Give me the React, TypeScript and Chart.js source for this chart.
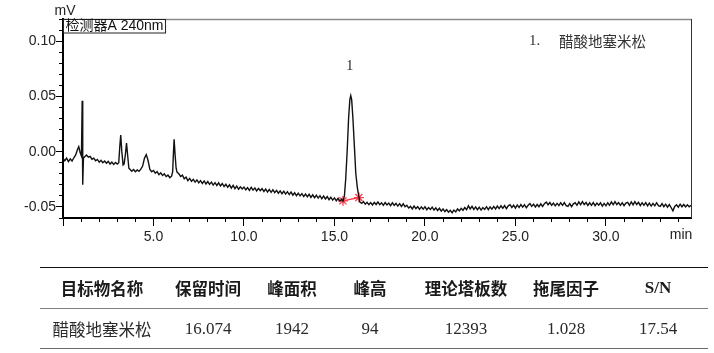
import React, { useEffect, useRef } from 'react';
import { Chart, registerables } from 'chart.js';

Chart.register(...registerables);

// ---- Data (time in min, signal in mV) ----
const chromatogram: [number, number][] = [
  [0.0, -0.0060], [0.1, -0.0082], [0.2, -0.0058], [0.3, -0.0090], [0.4, -0.0065], [0.5, -0.0085],
  [0.6, -0.0055], [0.7, -0.0030], [0.8, 0.0020], [0.87, 0.0045], [0.95, -0.0010], [1.02, -0.0040],
  [1.06, 0.0460], [1.09, -0.0300], [1.13, -0.0060], [1.2, -0.0045], [1.3, -0.0030], [1.4, -0.0050],
  [1.5, -0.0042], [1.6, -0.0068], [1.7, -0.0058], [1.8, -0.0082], [1.9, -0.0070], [2.0, -0.0095],
  [2.1, -0.0078], [2.2, -0.0100], [2.3, -0.0085], [2.4, -0.0105], [2.5, -0.0088], [2.6, -0.0112],
  [2.7, -0.0095], [2.8, -0.0115], [2.9, -0.0098], [3.0, -0.0112], [3.08, -0.0100], [3.14, 0.0050],
  [3.19, 0.0150], [3.25, 0.0000], [3.32, -0.0120], [3.38, -0.0110], [3.45, -0.0020], [3.51, 0.0078],
  [3.57, -0.0030], [3.64, -0.0150], [3.7, -0.0160], [3.8, -0.0178], [3.9, -0.0162], [4.0, -0.0182],
  [4.1, -0.0165], [4.2, -0.0178], [4.3, -0.0158], [4.4, -0.0130], [4.5, -0.0060], [4.6, -0.0027],
  [4.7, -0.0080], [4.8, -0.0160], [4.9, -0.0182], [5.0, -0.0170], [5.1, -0.0195], [5.2, -0.0180],
  [5.3, -0.0208], [5.4, -0.0192], [5.5, -0.0215], [5.6, -0.0200], [5.7, -0.0225], [5.8, -0.0212],
  [5.9, -0.0235], [6.0, -0.0222], [6.06, -0.0180], [6.1, -0.0020], [6.14, 0.0113], [6.19, -0.0020],
  [6.25, -0.0150], [6.3, -0.0185], [6.4, -0.0200], [6.5, -0.0225], [6.6, -0.0212], [6.7, -0.0245],
  [6.8, -0.0230], [6.9, -0.0262], [7.0, -0.0242], [7.1, -0.0268], [7.2, -0.0250], [7.3, -0.0275],
  [7.4, -0.0255], [7.5, -0.0282], [7.6, -0.0262], [7.7, -0.0288], [7.8, -0.0265], [7.9, -0.0292],
  [8.0, -0.0270], [8.1, -0.0296], [8.2, -0.0276], [8.3, -0.0302], [8.4, -0.0280], [8.5, -0.0305],
  [8.6, -0.0282], [8.7, -0.0310], [8.8, -0.0288], [8.9, -0.0315], [9.0, -0.0295], [9.1, -0.0322],
  [9.2, -0.0300], [9.3, -0.0330], [9.4, -0.0305], [9.5, -0.0335], [9.6, -0.0312], [9.7, -0.0340],
  [9.8, -0.0318], [9.9, -0.0338], [10.0, -0.0320], [10.1, -0.0345], [10.2, -0.0325], [10.3, -0.0350],
  [10.4, -0.0322], [10.5, -0.0348], [10.6, -0.0328], [10.7, -0.0355], [10.8, -0.0332], [10.9, -0.0352],
  [11.0, -0.0335], [11.1, -0.0360], [11.2, -0.0338], [11.3, -0.0365], [11.4, -0.0342], [11.5, -0.0368],
  [11.6, -0.0345], [11.7, -0.0370], [11.8, -0.0350], [11.9, -0.0376], [12.0, -0.0355], [12.1, -0.0380],
  [12.2, -0.0358], [12.3, -0.0384], [12.4, -0.0362], [12.5, -0.0388], [12.6, -0.0366], [12.7, -0.0394],
  [12.8, -0.0372], [12.9, -0.0398], [13.0, -0.0375], [13.1, -0.0400], [13.2, -0.0380], [13.3, -0.0406],
  [13.4, -0.0383], [13.5, -0.0408], [13.6, -0.0386], [13.7, -0.0414], [13.8, -0.0390], [13.9, -0.0416],
  [14.0, -0.0394], [14.1, -0.0420], [14.2, -0.0398], [14.3, -0.0426], [14.4, -0.0402], [14.5, -0.0428],
  [14.6, -0.0406], [14.7, -0.0434], [14.8, -0.0412], [14.9, -0.0438], [15.0, -0.0418], [15.1, -0.0444],
  [15.2, -0.0422], [15.3, -0.0448], [15.4, -0.0430], [15.47, -0.0445], [15.55, -0.0400], [15.62, -0.0250],
  [15.7, 0.0000], [15.78, 0.0300], [15.85, 0.0470], [15.9, 0.0506], [15.95, 0.0470], [16.02, 0.0300],
  [16.1, 0.0050], [16.18, -0.0200], [16.26, -0.0320], [16.33, -0.0390], [16.4, -0.0455], [16.5, -0.0468],
  [16.6, -0.0452], [16.7, -0.0475], [16.8, -0.0458], [16.9, -0.0480], [17.0, -0.0460], [17.1, -0.0482],
  [17.2, -0.0458], [17.3, -0.0478], [17.4, -0.0455], [17.5, -0.0480], [17.6, -0.0462], [17.7, -0.0485],
  [17.8, -0.0460], [17.9, -0.0482], [18.0, -0.0465], [18.1, -0.0488], [18.2, -0.0462], [18.3, -0.0485],
  [18.4, -0.0468], [18.5, -0.0492], [18.6, -0.0470], [18.7, -0.0495], [18.8, -0.0472], [18.9, -0.0498],
  [19.0, -0.0485], [19.1, -0.0510], [19.2, -0.0495], [19.3, -0.0518], [19.4, -0.0492], [19.5, -0.0515],
  [19.6, -0.0498], [19.7, -0.0522], [19.8, -0.0500], [19.9, -0.0520], [20.0, -0.0498], [20.1, -0.0525],
  [20.2, -0.0505], [20.3, -0.0522], [20.4, -0.0502], [20.5, -0.0528], [20.6, -0.0508], [20.7, -0.0532],
  [20.8, -0.0512], [20.9, -0.0538], [21.0, -0.0518], [21.1, -0.0542], [21.2, -0.0525], [21.3, -0.0548],
  [21.4, -0.0530], [21.5, -0.0552], [21.6, -0.0528], [21.7, -0.0545], [21.8, -0.0518], [21.9, -0.0535],
  [22.0, -0.0512], [22.1, -0.0530], [22.2, -0.0505], [22.3, -0.0525], [22.4, -0.0490], [22.5, -0.0518],
  [22.6, -0.0495], [22.7, -0.0522], [22.8, -0.0500], [22.9, -0.0525], [23.0, -0.0502], [23.1, -0.0528],
  [23.2, -0.0505], [23.3, -0.0522], [23.4, -0.0498], [23.5, -0.0525], [23.6, -0.0500], [23.7, -0.0520],
  [23.8, -0.0495], [23.9, -0.0518], [24.0, -0.0492], [24.1, -0.0515], [24.2, -0.0490], [24.3, -0.0512],
  [24.4, -0.0488], [24.5, -0.0515], [24.6, -0.0490], [24.7, -0.0480], [24.8, -0.0505], [24.9, -0.0485],
  [25.0, -0.0510], [25.1, -0.0482], [25.2, -0.0505], [25.3, -0.0478], [25.4, -0.0502], [25.5, -0.0480],
  [25.6, -0.0508], [25.7, -0.0485], [25.8, -0.0470], [25.9, -0.0495], [26.0, -0.0475], [26.1, -0.0500],
  [26.2, -0.0478], [26.3, -0.0498], [26.4, -0.0472], [26.5, -0.0495], [26.6, -0.0470], [26.7, -0.0455],
  [26.8, -0.0480], [26.9, -0.0460], [27.0, -0.0485], [27.1, -0.0465], [27.2, -0.0490], [27.3, -0.0468],
  [27.4, -0.0488], [27.5, -0.0462], [27.6, -0.0485], [27.7, -0.0460], [27.8, -0.0488], [27.9, -0.0495],
  [28.0, -0.0470], [28.1, -0.0498], [28.2, -0.0472], [28.3, -0.0462], [28.4, -0.0485], [28.5, -0.0455],
  [28.6, -0.0480], [28.7, -0.0452], [28.8, -0.0478], [28.9, -0.0460], [29.0, -0.0486], [29.1, -0.0462],
  [29.2, -0.0485], [29.3, -0.0460], [29.4, -0.0488], [29.5, -0.0465], [29.6, -0.0484], [29.7, -0.0462],
  [29.8, -0.0492], [29.9, -0.0468], [30.0, -0.0490], [30.1, -0.0462], [30.2, -0.0485], [30.3, -0.0455],
  [30.4, -0.0480], [30.5, -0.0452], [30.6, -0.0478], [30.7, -0.0460], [30.8, -0.0485], [30.9, -0.0462],
  [31.0, -0.0488], [31.1, -0.0465], [31.2, -0.0458], [31.3, -0.0485], [31.4, -0.0455], [31.5, -0.0482],
  [31.6, -0.0452], [31.7, -0.0478], [31.8, -0.0458], [31.9, -0.0488], [32.0, -0.0462], [32.1, -0.0485],
  [32.2, -0.0460], [32.3, -0.0490], [32.4, -0.0465], [32.5, -0.0492], [32.6, -0.0468], [32.7, -0.0490],
  [32.8, -0.0462], [32.9, -0.0488], [33.0, -0.0495], [33.1, -0.0470], [33.2, -0.0498], [33.3, -0.0475],
  [33.4, -0.0502], [33.5, -0.0478], [33.6, -0.0505], [33.7, -0.0535], [33.8, -0.0495], [33.9, -0.0480],
  [34.0, -0.0502], [34.1, -0.0475], [34.2, -0.0498], [34.3, -0.0478], [34.4, -0.0500], [34.5, -0.0480],
  [34.6, -0.0498], [34.7, -0.0485],
];

// integration baseline markers of peak 1
const integrationTimes = [15.47, 16.35];
const integrationValues = [-0.0445, -0.0415];

// peak annotation
const peakLabels = ['1'];
const peakTimes = [15.9];
const peakValues = [0.0506];

// legend / captions
const detectorCaption = '检测器A 240nm';
const yUnit = 'mV';
const xUnit = 'min';
const compoundLegend = ['1.', '醋酸地塞米松'];

// axes
const xMin = 0;
const xMax = 34.7;
const xMinorStep = 1;
const xMajorStep = 5;
const yMin = -0.06;
const yMax = 0.12;
const yMinorStep = 0.01;
const yMajorStep = 0.05;

// table
const tableHeaders = ['目标物名称', '保留时间', '峰面积', '峰高', '理论塔板数', '拖尾因子', 'S/N'];
const tableValues = ['醋酸地塞米松', '16.074', '1942', '94', '12393', '1.028', '17.54'];

// ---- layout / style constants ----
const columnWidths = [124, 88, 80, 76, 116, 84, 100];
const SANS = '"Liberation Sans", Arial, "Noto Sans CJK SC", sans-serif';
const SERIF = '"Liberation Serif", "Times New Roman", "Noto Sans CJK SC", serif';
const CJK = '"Noto Sans CJK SC", sans-serif';

const isMultiple = (v: number, step: number) => Math.abs(v / step - Math.round(v / step)) < 1e-6;

const decorations = {
  id: 'decorations',
  afterDraw(chart: any) {
    const { ctx, chartArea } = chart;
    const xs = chart.scales.x;
    const ys = chart.scales.y;
    ctx.save();
    // top border (gray)
    ctx.strokeStyle = '#8a8a8a';
    ctx.lineWidth = 1.5;
    ctx.beginPath();
    ctx.moveTo(chartArea.left, chartArea.top + 0.5);
    ctx.lineTo(chartArea.right + 0.5, chartArea.top + 0.5);
    ctx.stroke();
    // right border
    ctx.strokeStyle = '#333';
    ctx.lineWidth = 1;
    ctx.beginPath();
    ctx.moveTo(chartArea.right + 0.5, chartArea.top);
    ctx.lineTo(chartArea.right + 0.5, chartArea.bottom);
    ctx.stroke();

    // unit labels
    ctx.fillStyle = '#222';
    ctx.font = `14px ${SANS}`;
    ctx.textAlign = 'center';
    ctx.textBaseline = 'middle';
    ctx.fillText(yUnit, chartArea.left + 2, 11.5);
    ctx.fillText(xUnit, chartArea.right - 10, chartArea.bottom + 17.5);

    // detector caption box
    ctx.font = `14px ${SANS}`;
    const w = ctx.measureText(detectorCaption).width;
    ctx.fillStyle = '#fff';
    ctx.fillRect(chartArea.left + 1, chartArea.top + 1, w + 4, 13);
    ctx.strokeStyle = '#222';
    ctx.lineWidth = 1;
    ctx.strokeRect(chartArea.left + 0.5, chartArea.top + 0.5, w + 4, 13.5);
    ctx.fillStyle = '#111';
    ctx.textAlign = 'left';
    ctx.fillText(detectorCaption, chartArea.left + 2.5, chartArea.top + 7.5);

    // compound legend
    ctx.fillStyle = '#333';
    ctx.font = `15px ${SERIF}`;
    ctx.fillText(compoundLegend[0], 529, 41.5);
    ctx.font = `14.5px ${CJK}`;
    ctx.fillText(compoundLegend[1], 559, 41);

    // peak labels
    ctx.fillStyle = '#222';
    ctx.font = `14px ${SERIF}`;
    ctx.textAlign = 'center';
    peakLabels.forEach((lab, i) => {
      const px = xs.getPixelForValue(peakTimes[i]);
      const py = ys.getPixelForValue(peakValues[i]);
      ctx.fillText(lab, px - 1, py - 29);
    });
    ctx.restore();
  },
};

function ChromChart() {
  const ref = useRef<HTMLCanvasElement | null>(null);
  useEffect(() => {
    if (!ref.current) return;
    const chart = new Chart(ref.current, {
      type: 'line',
      data: {
        datasets: [
          {
            label: 'trace',
            data: chromatogram.map(([x, y]) => ({ x, y })),
            borderColor: '#111',
            borderWidth: 1.4,
            pointRadius: 0,
            tension: 0,
            fill: false,
          },
          {
            label: 'integration',
            data: integrationTimes.map((x, i) => ({ x, y: integrationValues[i] })),
            borderColor: '#ff3b4a',
            backgroundColor: '#ff3b4a',
            borderWidth: 1.5,
            pointStyle: 'star',
            pointRadius: 5,
            pointBorderWidth: 1.3,
            tension: 0,
            fill: false,
          },
        ],
      } as any,
      options: {
        animation: false,
        responsive: false,
        maintainAspectRatio: false,
        events: [],
        layout: { padding: { top: 19, right: 23, left: 0, bottom: 0 } },
        plugins: { legend: { display: false }, tooltip: { enabled: false }, title: { display: false } },
        scales: {
          x: {
            type: 'linear',
            min: xMin,
            max: xMax,
            border: { display: true, color: '#000', width: 2 },
            grid: {
              drawOnChartArea: false,
              drawTicks: true,
              tickLength: 8,
              tickWidth: 1,
              tickColor: '#000',
              tickBorderDash: (c: any) => (c.tick && isMultiple(c.tick.value, xMajorStep) ? [] : [3, 30]),
            },
            ticks: {
              stepSize: xMinorStep,
              autoSkip: false,
              includeBounds: false,
              maxRotation: 0,
              padding: 3,
              color: '#222',
              font: { size: 14, family: SANS },
              callback: (v: any) => (isMultiple(Number(v), xMajorStep) && Number(v) > 0 ? Number(v).toFixed(1) : ''),
            },
            afterFit: (s: any) => {
              s.height = 37;
              s.paddingLeft = 0;
              s.paddingRight = 0;
            },
          },
          y: {
            type: 'linear',
            min: yMin,
            max: yMax,
            border: { display: true, color: '#000', width: 2 },
            grid: {
              drawOnChartArea: false,
              drawTicks: true,
              tickLength: 7,
              tickWidth: 1,
              tickColor: '#000',
              tickBorderDash: (c: any) => (c.tick && isMultiple(c.tick.value, yMajorStep) ? [] : [0, 3, 3, 30]),
            },
            ticks: {
              stepSize: yMinorStep,
              autoSkip: false,
              padding: 0,
              color: '#222',
              font: { size: 14, family: SANS },
              callback: (v: any) => (isMultiple(Number(v), yMajorStep) && Number(v) <= 0.1 + 1e-9 ? Number(v).toFixed(2) : ''),
            },
            afterFit: (s: any) => {
              s.width = 63;
              s.paddingTop = 0;
              s.paddingBottom = 0;
            },
          },
        },
      } as any,
      plugins: [decorations],
    });
    return () => chart.destroy();
  }, []);
  return <canvas ref={ref} width={714} height={255} style={{ display: 'block', width: 714, height: 255 }} />;
}

export default function App() {
  const line = (top: number, color: string) => (
    <div style={{ position: 'absolute', left: 40, width: 668, top, height: 1.5, background: color }} />
  );
  const row = (cells: string[], top: number, header: boolean) => (
    <div style={{ position: 'absolute', left: 40, top, height: 40, display: 'flex', alignItems: 'center' }}>
      {cells.map((c, i) => {
        const isCjk = /[\u4e00-\u9fff]/.test(c);
        const style: React.CSSProperties = {
          width: columnWidths[i],
          textAlign: 'center',
          whiteSpace: 'nowrap',
          color: header ? '#1a1a1a' : '#2a2a2a',
          fontFamily: isCjk ? CJK : SERIF,
          fontSize: isCjk ? 16.5 : 17,
          fontWeight: header ? 700 : 400,
        };
        return (
          <div key={i} style={style}>
            {c}
          </div>
        );
      })}
    </div>
  );
  return (
    <div style={{ position: 'absolute', left: 0, top: 0, width: 714, height: 353, background: '#fff', overflow: 'hidden' }}>
      <ChromChart />
      <div style={{ position: 'absolute', left: 0, top: 0, width: 714, height: 353, willChange: 'transform', WebkitFontSmoothing: 'antialiased' } as any}>
        {line(266.5, '#111')}
        {row(tableHeaders, 268, true)}
        {line(307.5, '#808080')}
        {row(tableValues, 309, false)}
        {line(347.5, '#6a6a6a')}
      </div>
    </div>
  );
}
